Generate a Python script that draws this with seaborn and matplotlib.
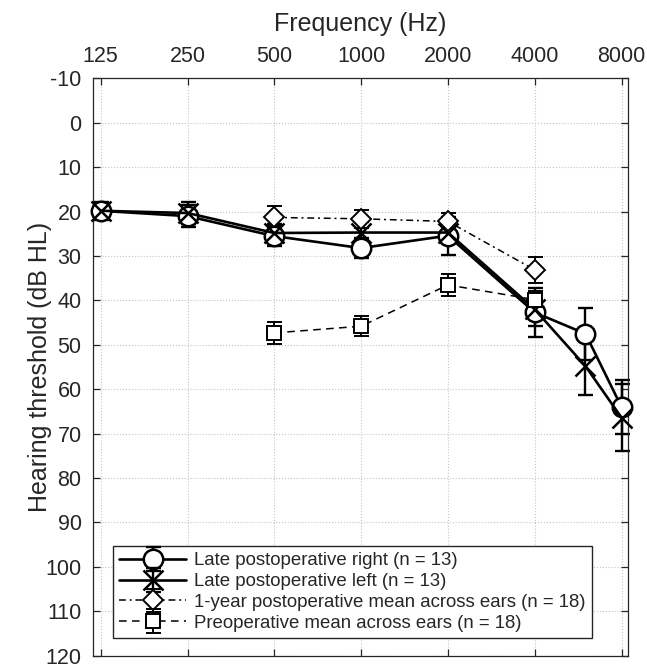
import matplotlib
matplotlib.use("Agg")
import matplotlib.pyplot as plt
from matplotlib.ticker import NullLocator
from matplotlib.legend_handler import HandlerTuple, HandlerErrorbar
from matplotlib.container import ErrorbarContainer
import numpy as np
import pandas as pd
import seaborn as sns

# ---------------- data ----------------
freq_late = [125, 250, 500, 1000, 2000, 4000, 6000, 8000]
late_right = [19.8, 21.0, 25.5, 28.2, 25.4, 42.7, 47.5, 64.0]
late_right_err = [2.0, 2.5, 2.3, 2.2, 4.3, 5.5, 5.8, 6.0]
late_left = [19.8, 20.3, 24.8, 24.7, 24.7, 42.0, 54.8, 66.4]
late_left_err = [1.8, 2.5, 2.0, 2.3, 2.2, 3.7, 6.5, 7.5]

freq_mean = [500, 1000, 2000, 4000]
oneyear = [21.3, 21.6, 22.2, 33.1]
oneyear_err = [2.5, 2.0, 2.0, 3.0]
preop = [47.3, 45.8, 36.5, 39.8]
preop_err = [2.4, 2.2, 2.5, 2.0]

labels = [
    "Late postoperative right (n = 13)",
    "Late postoperative left (n = 13)",
    "1-year postoperative mean across ears (n = 18)",
    "Preoperative mean across ears (n = 18)",
]
xtick_vals = [125, 250, 500, 1000, 2000, 4000, 8000]
ytick_vals = list(range(-10, 121, 10))

# ---------------- style ----------------
sns.set_theme(style="white")
plt.rcParams["font.family"] = ["Liberation Sans", "DejaVu Sans"]
TXT = "#262626"

fig = plt.figure(figsize=(6.47, 6.68), dpi=100)
ax = fig.add_axes([0.1433, 0.0185, 0.8269, 0.8640])
ax.set_xscale("log")

series = [
    dict(x=freq_late, y=late_right, e=late_right_err, marker="o", ms=14, mew=1.8,
         ls="-", lw=1.9, elw=1.7),
    dict(x=freq_late, y=late_left, e=late_left_err, marker="x", ms=14, mew=1.8,
         ls="-", lw=1.9, elw=1.7),
    dict(x=freq_mean, y=oneyear, e=oneyear_err, marker="D", ms=10, mew=1.4,
         ls=(0, (4.5, 2.5, 1.3, 2.5)), lw=1.1, elw=1.4),
    dict(x=freq_mean, y=preop, e=preop_err, marker="s", ms=9.5, mew=1.4,
         ls=(0, (5, 3.5)), lw=1.1, elw=1.4),
]

handles = []
for s, lab in zip(series, labels):
    df = pd.DataFrame({"freq": s["x"], "hl": s["y"]})
    eb = ax.errorbar(df["freq"], df["hl"], yerr=s["e"], fmt="none", ecolor="black",
                     elinewidth=s["elw"], capsize=5.4, capthick=s["elw"], zorder=2)
    for art in eb.lines[1] + eb.lines[2]:
        art.set_clip_on(False)
    sns.lineplot(data=df, x="freq", y="hl", ax=ax, color="black", sort=False,
                 errorbar=None, marker=s["marker"], markersize=s["ms"],
                 markerfacecolor="white", markeredgecolor="black",
                 markeredgewidth=s["mew"], linestyle=s["ls"], linewidth=s["lw"],
                 zorder=3, legend=False, clip_on=False)
    line = ax.lines[-1]
    handles.append((eb, line))

# ---------------- axes ----------------
ax.set_xlim(125 * 2 ** (-0.092), 8000 * 2 ** (0.0714))
ax.set_ylim(120, -10)
ax.set_xticks(xtick_vals)
ax.set_xticklabels([str(v) for v in xtick_vals])
ax.xaxis.set_minor_locator(NullLocator())
ax.set_yticks(ytick_vals)
ax.set_yticklabels([str(v) for v in ytick_vals])

ax.tick_params(axis="x", which="both", top=True, bottom=True, labeltop=True,
               labelbottom=False, direction="in", length=5, width=0.9,
               colors=TXT, labelsize=15.5, pad=8)
ax.tick_params(axis="y", which="both", left=True, right=True, labelleft=True,
               direction="in", length=5, width=0.9, colors=TXT, labelsize=15.5, pad=8)
ax.xaxis.set_label_position("top")
ax.set_xlabel("Frequency (Hz)", fontsize=18, color=TXT, labelpad=11)
ax.set_ylabel("Hearing threshold (dB HL)", fontsize=18, color=TXT)
ax.yaxis.set_label_coords(-0.076, 0.5)

for sp in ax.spines.values():
    sp.set_visible(True)
    sp.set_color(TXT)
    sp.set_linewidth(0.9)
    sp.set_zorder(2.5)

ax.grid(True, which="major", linestyle=":", color="#c4c4c4", linewidth=0.8)
ax.set_axisbelow(True)

leg = ax.legend(handles, labels, loc="lower left", bbox_to_anchor=(0.0374, 0.0302),
                borderaxespad=0, fontsize=13.4, frameon=True, fancybox=False,
                framealpha=1, edgecolor=TXT, handlelength=3.6, handletextpad=0.4,
                labelspacing=0.2, borderpad=0.35,
                handler_map={tuple: HandlerTuple(ndivide=1),
                             ErrorbarContainer: HandlerErrorbar(yerr_size=0.64)})
leg.get_frame().set_linewidth(1.0)
leg.set_zorder(5)
for t in leg.get_texts():
    t.set_color(TXT)

fig.savefig("out.png", dpi=100)
